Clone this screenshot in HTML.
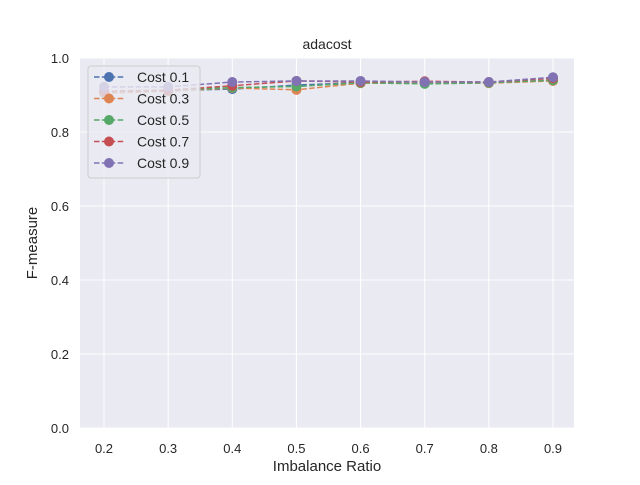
<!DOCTYPE html>
<html><head><meta charset="utf-8"><style>
body{margin:0;background:#fff;width:640px;height:480px;overflow:hidden}
text{font-family:"Liberation Sans",Arial,sans-serif;fill:#262626}
</style></head><body>
<svg id="c" width="640" height="480" xmlns="http://www.w3.org/2000/svg"></svg>
<script>
const xCats=[0.2,0.3,0.4,0.5,0.6,0.7,0.8,0.9];
const yTicks=[0.0,0.2,0.4,0.6,0.8,1.0];
const seriesNames=["Cost 0.1","Cost 0.3","Cost 0.5","Cost 0.7","Cost 0.9"];
const cost01=[0.910,0.912,0.916,0.927,0.933,0.933,0.933,0.940];
const cost03=[0.905,0.910,0.919,0.914,0.932,0.932,0.932,0.938];
const cost05=[0.908,0.912,0.920,0.923,0.933,0.930,0.933,0.940];
const cost07=[0.910,0.913,0.925,0.938,0.935,0.937,0.935,0.945];
const cost09=[0.922,0.922,0.935,0.938,0.938,0.935,0.935,0.948];
const colors=["#4c72b0","#dd8452","#55a868","#c44e52","#8172b3"];
const L=80,R=574,T=58,B=428;
const sx=v=>104+(v-0.2)/0.7*449;
const sy=v=>B-v*(B-T);
const NS="http://www.w3.org/2000/svg";
const svg=document.getElementById('c');
function mk(t,a,p){const e=document.createElementNS(NS,t);for(const k in a)e.setAttribute(k,a[k]);(p||svg).appendChild(e);return e;}
const bg=mk('rect',{x:L,y:T,width:R-L,height:B-T,fill:'#eaeaf2'});


xCats.forEach(v=>{
 const g=mk('line',{x1:sx(v),x2:sx(v),y1:T,y2:B,stroke:'#fff','stroke-width':1});
 
 
 const t=mk('text',{x:sx(v),y:B+25,'text-anchor':'middle','font-size':'13'});t.textContent=v.toFixed(1);
 
 
});
yTicks.forEach(v=>{
 const g=mk('line',{x1:L,x2:R,y1:sy(v),y2:sy(v),stroke:'#fff','stroke-width':1});
 
 
 const t=mk('text',{x:L-11,y:sy(v)+5,'text-anchor':'end','font-size':'13'});t.textContent=v.toFixed(1);
 
 
});
const all=[cost01,cost03,cost05,cost07,cost09];
all.forEach((s,i)=>{
 const g=mk('g',{});
 
 
 mk('polyline',{points:s.map((v,j)=>sx(xCats[j])+','+sy(v)).join(' '),fill:'none',stroke:colors[i],'stroke-width':1.5,'stroke-dasharray':'5.5,2.4'},g);
 s.forEach((v,j)=>{const c=mk('circle',{cx:sx(xCats[j]),cy:sy(v),r:5,fill:colors[i]},g);
  
  });
});
const title=mk('text',{x:327,y:49,'text-anchor':'middle','font-size':'14'});title.textContent='adacost';


const xl=mk('text',{x:327,y:471,'text-anchor':'middle','font-size':'15'});xl.textContent='Imbalance Ratio';


const yl=mk('text',{x:37,y:243,'text-anchor':'middle','font-size':'15',transform:'rotate(-90 37 243)'});yl.textContent='F-measure';


const lg=mk('g',{});


mk('rect',{x:88,y:66,width:112,height:112,rx:3,fill:'#eaeaf2','fill-opacity':0.8,stroke:'#cccccc'},lg);
seriesNames.forEach((n,i)=>{
 const y=77+i*21.5;
 const e=mk('g',{},lg);
 
 
 mk('line',{x1:94,x2:124,y1:y,y2:y,stroke:colors[i],'stroke-width':1.5,'stroke-dasharray':'5.5,2.4'},e);
 mk('circle',{cx:109,cy:y,r:5,fill:colors[i]},e);
 const t=mk('text',{x:137,y:y+5,'font-size':'14'},e);t.textContent=n;
});
</script>
</body></html>
